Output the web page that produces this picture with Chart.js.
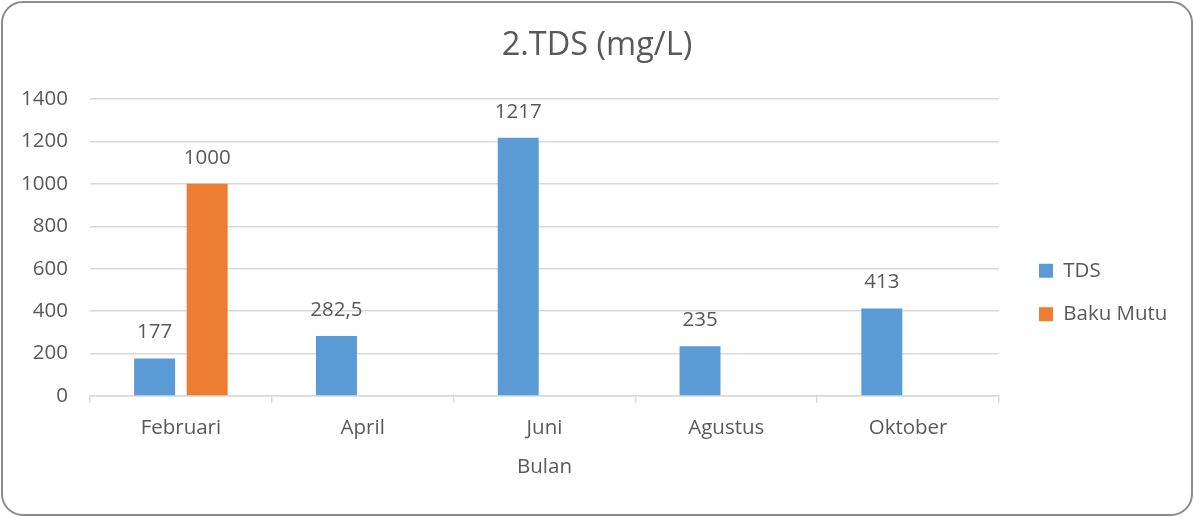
<!DOCTYPE html>
<html>
<head>
<meta charset="utf-8">
<script src="https://cdn.jsdelivr.net/npm/chart.js@4/dist/chart.umd.min.js"></script>
<style>
  html, body { margin: 0; padding: 0; background: #fff; }
  #wrap { position: relative; width: 1194px; height: 517px; }
  #c { position: absolute; left: 0; top: 0; }
  #frame { position: absolute; left: 1px; top: 1px; width: 1192px; height: 515px; box-sizing: border-box;
           border: 2px solid #8c8c8c; border-radius: 22px; pointer-events: none; }
</style>
</head>
<body>
<div id="wrap">
  <canvas id="c" width="1194" height="517"></canvas>
  <div id="frame"></div>
</div>
<script>
const categories = ['Februari', 'April', 'Juni', 'Agustus', 'Oktober'];
const tdsValues = [177, 282.5, 1217, 235, 413];
const bakuMutuValues = [1000, null, null, null, null];
const seriesNames = ['TDS', 'Baku Mutu'];
const chartTitle = '2.TDS (mg/L)';
const xAxisTitle = 'Bulan';
const yMax = 1400;
const yStep = 200;

const TEXT = '#595959';
const FONT = '"Open Sans", "Noto Sans", sans-serif';
const FS = 20.5;

const fmt = v => String(v).replace('.', ',');

const dataLabels = {
  id: 'dataLabels',
  afterDatasetsDraw(chart) {
    const ctx = chart.ctx;
    ctx.save();
    ctx.font = FS + 'px ' + FONT;
    ctx.fillStyle = TEXT;
    ctx.textAlign = 'center';
    ctx.textBaseline = 'middle';
    chart.data.datasets.forEach((ds, i) => {
      const meta = chart.getDatasetMeta(i);
      meta.data.forEach((el, j) => {
        const v = ds.data[j];
        if (v === null || v === undefined) return;
        ctx.fillText(fmt(v), el.x, el.y - 26);
      });
    });
    ctx.restore();
  }
};

const legendFix = {
  id: 'legendFix',
  beforeLayout(chart) {
    const lg = chart.legend;
    if (lg && !lg._fixed) {
      const orig = lg.fit;
      lg.fit = function () { orig.call(this); this.width = 195; };
      lg._fixed = true;
    }
  },
  afterLayout(chart) {
    const lg = chart.legend;
    if (lg) {
      lg.left += 17; lg.right += 17;
      lg.top += 44; lg.bottom += 44;
    }
  }
};

new Chart(document.getElementById('c'), {
  type: 'bar',
  data: {
    labels: categories,
    datasets: [
      { label: seriesNames[0], data: tdsValues, backgroundColor: '#5B9BD5', categoryPercentage: 0.578, barPercentage: 0.78 },
      { label: seriesNames[1], data: bakuMutuValues, backgroundColor: '#ED7D31', categoryPercentage: 0.578, barPercentage: 0.78 }
    ]
  },
  options: {
    responsive: false,
    animation: false,
    layout: { padding: { left: 0, right: 0, top: 0, bottom: 20 } },
    plugins: {
      title: {
        display: true, text: chartTitle, color: TEXT,
        font: { family: FONT, size: 32.5, weight: 'normal' },
        padding: { top: 26, bottom: 34 }
      },
      legend: {
        position: 'right',
        labels: {
          color: TEXT, boxWidth: 14, boxHeight: 14, padding: 23,
          font: { family: FONT, size: FS }
        }
      },
      tooltip: { enabled: false }
    },
    scales: {
      x: {
        grid: { offset: true, drawOnChartArea: false, drawTicks: true, tickLength: 7, color: '#d9d9d9', lineWidth: 1.5 },
        border: { display: true, color: '#d9d9d9', width: 1.5 },
        ticks: { color: TEXT, font: { family: FONT, size: FS }, padding: 13 },
        title: { display: true, text: xAxisTitle, color: TEXT, font: { family: FONT, size: FS }, padding: { top: 0, bottom: 18 } },
        afterFit(scale) { scale.height = 101; }
      },
      y: {
        min: 0, max: yMax,
        ticks: { stepSize: yStep, color: TEXT, font: { family: FONT, size: FS }, padding: 22,
                 callback: v => String(v) },
        grid: { color: '#d9d9d9', lineWidth: 1.5, drawTicks: false },
        border: { display: false },
        afterFit(scale) { scale.width = 90; }
      }
    }
  },
  plugins: [dataLabels, legendFix]
});
</script>
</body>
</html>
